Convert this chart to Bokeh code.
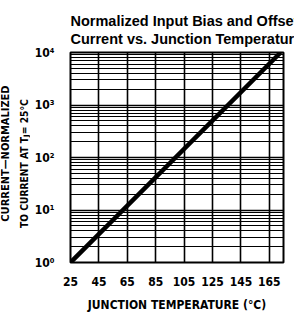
import math
from bokeh.plotting import figure
from bokeh.layouts import row
from bokeh.models import FixedTicker, Label, Range1d
from bokeh.embed import file_html
from bokeh.resources import INLINE

# ---- data ----
temps = [25, 173]            # junction temperature (°C)
current = [1, 10000]         # normalized current
x_ticks = [25, 45, 65, 85, 105, 125, 145, 165]
x_grid = [45, 65, 85, 105, 125, 145, 165]
y_decades = [1, 10, 100, 1000, 10000]
y_labels = ["10\u2070", "10\u00b9", "10\u00b2", "10\u00b3", "10\u2074"]
title_text = "Normalized Input Bias and Offset\nCurrent vs. Junction Temperature"
xlabel = "JUNCTION TEMPERATURE (\u00b0C)"
ylabel1 = "CURRENT\u2014NORMALIZED"
ylabel2a = "TO CURRENT AT T"
ylabel2b = "J"
ylabel2c = " = 25\u00b0C"

COND = "'Liberation Sans Narrow', 'DejaVu Sans Condensed', 'Liberation Sans', sans-serif"
H = 318
LW = 30  # width of the strip holding the y-axis title

# ---- strip for the rotated y-axis title ----
lf = figure(width=LW, height=H, output_backend="svg", toolbar_location=None,
            x_range=Range1d(0, LW), y_range=Range1d(0, H),
            min_border=0, min_border_left=0, min_border_right=0,
            min_border_top=0, min_border_bottom=0)
lf.axis.visible = False
lf.grid.visible = False
lf.outline_line_color = None

lab_kw = dict(angle=math.pi / 2, text_font=COND, text_font_style="bold", text_color="black")
lf.add_layout(Label(x=5, y=H - 153, text=ylabel1, text_align="center",
                    text_baseline="middle", text_font_size="11px", **lab_kw))
y_anchor = H - 128
lf.add_layout(Label(x=23.5, y=y_anchor, text=ylabel2a, text_align="right",
                    text_baseline="middle", text_font_size="10.2px", **lab_kw))
lf.add_layout(Label(x=25.5, y=y_anchor, text=ylabel2b, text_align="left",
                    text_baseline="middle", text_font_size="7.5px", **lab_kw))
lf.add_layout(Label(x=23.5, y=y_anchor + 4.3, text=ylabel2c, text_align="left",
                    text_baseline="middle", text_font_size="10.2px", **lab_kw))

# ---- main chart ----
p = figure(width=294 - LW, height=H, output_backend="svg", toolbar_location=None,
           y_axis_type="log", x_range=Range1d(25, 175), y_range=Range1d(1, 10000),
           min_border_left=70 - LW, min_border_right=11, min_border_top=52, min_border_bottom=56,
           title=title_text)

p.title.text_font = "Liberation Sans"
p.title.text_font_size = "14.5px"
p.title.text_font_style = "bold"
p.title.text_color = "black"
p.title.text_line_height = 1.1
p.title.align = "left"
p.title.standoff = 11

p.outline_line_color = "black"
p.outline_line_width = 2
p.background_fill_color = "white"

# x axis
p.xaxis.ticker = FixedTicker(ticks=x_ticks)
p.xaxis.major_label_text_font = COND
p.xaxis.major_label_text_font_size = "12px"
p.xaxis.major_label_text_font_style = "bold"
p.xaxis.major_label_text_color = "black"
p.xaxis.major_label_standoff = 8
p.xaxis.axis_label = xlabel
p.xaxis.axis_label_text_font = COND
p.xaxis.axis_label_text_font_size = "12px"
p.xaxis.axis_label_text_font_style = "bold"
p.xaxis.axis_label_text_color = "black"
p.xaxis.axis_label_standoff = 9
p.xaxis.axis_line_color = None
p.xaxis.major_tick_line_color = None
p.xaxis.minor_tick_line_color = None

# y axis
minor = [m * d for d in y_decades[:-1] for m in range(2, 10)]
p.yaxis.ticker = FixedTicker(ticks=y_decades, minor_ticks=minor)
p.yaxis.major_label_overrides = {v: t for v, t in zip(y_decades, y_labels)}
p.yaxis.major_label_text_font = COND
p.yaxis.major_label_text_font_size = "12px"
p.yaxis.major_label_text_font_style = "bold"
p.yaxis.major_label_text_color = "black"
p.yaxis.major_label_standoff = 10
p.yaxis.axis_line_color = None
p.yaxis.major_tick_line_color = None
p.yaxis.minor_tick_line_color = None

# grids
p.xgrid.ticker = FixedTicker(ticks=x_grid)
p.xgrid.grid_line_color = "black"
p.xgrid.grid_line_width = 1.6
p.ygrid.grid_line_color = "black"
p.ygrid.grid_line_width = 1.5
p.ygrid.minor_grid_line_color = "black"
p.ygrid.minor_grid_line_width = 1.1

# curve
p.line(temps, current, line_color="black", line_width=4.5)

layout = row(lf, p, spacing=0)
open("out.html", "w").write(file_html(layout, INLINE))
